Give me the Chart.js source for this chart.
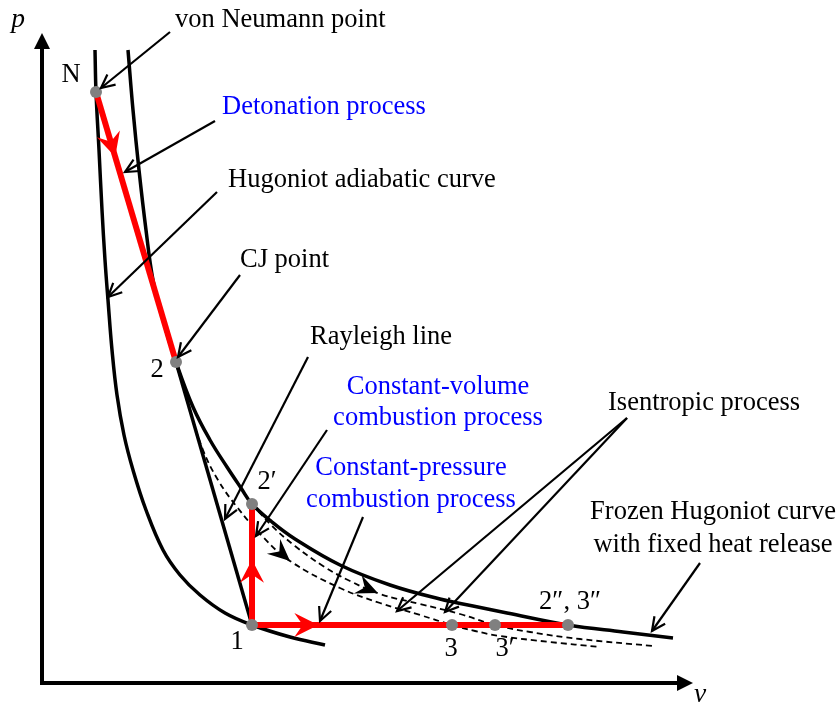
<!DOCTYPE html>
<html><head><meta charset="utf-8">
<script src="https://cdn.jsdelivr.net/npm/chart.js@4.4.1/dist/chart.umd.min.js"></script>
<style>html,body{margin:0;padding:0;background:#fff;overflow:hidden}#wrap{width:838px;height:708px;position:relative}</style>
</head><body><div id="wrap"><canvas id="c"></canvas></div>
<script>
// Schematic p–v diagram: specific volume v (x) and pressure p (y), arbitrary units
const leftHugoniotV = [53,54,57,60,63,66,70,75,82,91,104,121,138,158,183,210,248,283];
const leftHugoniotP = [633,591,533,473,423,383,333,288,248,213,173,133,108,88,70,58,46,38];
const rightHugoniotV = [86,91,97,104,111,121,134,151,168,185,199,210,230,253,298,348,398,431,465,526,581,631];
const rightHugoniotP = [633,573,513,453,403,363,321,276,243,216,195,179,161,144,118,98,84,77,70,58,51,45];
const isentropeCJV = [134,148,161,176,195,221,248,298,338,378,410,433,458,508,558];
const isentropeCJP = [321,273,233,203,176,146,122,95,80,68,58,52,47,41,36];
const isentropeCVV = [210,230,253,281,308,338,378,418,453,488,538,611];
const isentropeCVP = [179,157,137,117,102,89,79,69,58,51,44,37];
const stateLabels = ['N','2','2′','1','3','3′','2″, 3″'];
const stateV = [54,134,210,210,410,453,526];
const stateP = [591,321,179,58,58,58,58];

const pts = (vs, ps) => vs.map((v, i) => ({x: v, y: ps[i]}));
const S = i => ({x: stateV[i], y: stateP[i]});
const SERIF = '"Liberation Serif","Times New Roman",serif';
const FS = 26.5;

function barb(ctx, tx, ty, ang, L, W, color) {
  const dx = Math.cos(ang), dy = Math.sin(ang), nx = -dy, ny = dx;
  ctx.beginPath();
  ctx.moveTo(tx, ty);
  ctx.lineTo(tx - L*dx + W*nx, ty - L*dy + W*ny);
  ctx.lineTo(tx - 0.65*L*dx, ty - 0.65*L*dy);
  ctx.lineTo(tx - L*dx - W*nx, ty - L*dy - W*ny);
  ctx.closePath();
  ctx.fillStyle = color; ctx.fill();
}
function along(chart, ds, seg, t) {
  const d = chart.getDatasetMeta(ds).data, a = d[seg], b = d[seg+1];
  return {x: a.x + (b.x-a.x)*t, y: a.y + (b.y-a.y)*t, ang: Math.atan2(b.y-a.y, b.x-a.x)};
}

const callouts = [ // [from v,p] -> [to v,p]
  [128,651, 59,595], [173,562, 83,511], [175,491, 66,386], [198,408, 136,326],
  [266,326, 183,164], [285,253, 214,147], [321,166, 278,62],
  [585,265, 355,72], [585,265, 403,71], [658,120, 610,52]
];
const texts = [ // text, v, p, align, color
  ['von Neumann point', 133, 663, 'left', '#000'],
  ['Detonation process', 180, 576, 'left', '#0000ff'],
  ['Hugoniot adiabatic curve', 186, 503, 'left', '#000'],
  ['CJ point', 198, 423, 'left', '#000'],
  ['Rayleigh line', 268, 346, 'left', '#000'],
  ['Constant-volume', 396, 296, 'center', '#0000ff'],
  ['combustion process', 396, 265, 'center', '#0000ff'],
  ['Constant-pressure', 369, 215, 'center', '#0000ff'],
  ['combustion process', 369, 183, 'center', '#0000ff'],
  ['Isentropic process', 566, 280, 'left', '#000'],
  ['Frozen Hugoniot curve', 671, 171, 'center', '#000'],
  ['with fixed heat release', 671, 138, 'center', '#000']
];
const stateOffsets = [[-25,-17],[-19,8],[15,-22],[-15,17],[-1,24],[10,24],[2,-23]];

const overlay = {
  id: 'overlay',
  afterDatasetsDraw(chart) {
    const ctx = chart.ctx, xs = chart.scales.x, ys = chart.scales.y;
    const X = v => xs.getPixelForValue(v), Y = p => ys.getPixelForValue(p);
    ctx.save();
    // axes
    ctx.strokeStyle = '#000'; ctx.fillStyle = '#000'; ctx.lineWidth = 4; ctx.lineCap = 'butt';
    ctx.beginPath(); ctx.moveTo(X(0), Y(-2)); ctx.lineTo(X(0), Y(634)); ctx.stroke();
    ctx.beginPath(); ctx.moveTo(X(-2), Y(0)); ctx.lineTo(X(636), Y(0)); ctx.stroke();
    ctx.beginPath(); ctx.moveTo(X(0), Y(650)); ctx.lineTo(X(0)-8, Y(634)); ctx.lineTo(X(0)+8, Y(634)); ctx.closePath(); ctx.fill();
    ctx.beginPath(); ctx.moveTo(X(651), Y(0)); ctx.lineTo(X(635), Y(0)-8); ctx.lineTo(X(635), Y(0)+8); ctx.closePath(); ctx.fill();
    // process arrows (red) and isentrope arrows (black)
    let a = along(chart, 5, 0, 0.24); barb(ctx, a.x, a.y, a.ang, 24, 12, '#ff0000');
    a = along(chart, 6, 0, 0.54); barb(ctx, a.x, a.y, a.ang, 23, 12, '#ff0000');
    a = along(chart, 7, 0, 0.21); barb(ctx, a.x, a.y, a.ang, 24, 12, '#ff0000');
    a = along(chart, 2, 5, 1.0); barb(ctx, a.x, a.y, a.ang, 22, 10, '#000');
    a = along(chart, 3, 4, 0.93); barb(ctx, a.x, a.y, a.ang, 22, 10, '#000');
    // callouts
    ctx.lineWidth = 2.2; ctx.strokeStyle = '#000'; ctx.lineJoin = 'miter';
    callouts.forEach(c => {
      const x1 = X(c[0]), y1 = Y(c[1]), x2 = X(c[2]), y2 = Y(c[3]);
      ctx.beginPath(); ctx.moveTo(x1, y1); ctx.lineTo(x2, y2); ctx.stroke();
      const an = Math.atan2(y2-y1, x2-x1), h = 15, s = 0.45;
      ctx.beginPath();
      ctx.moveTo(x2 - h*Math.cos(an-s), y2 - h*Math.sin(an-s));
      ctx.lineTo(x2, y2);
      ctx.lineTo(x2 - h*Math.cos(an+s), y2 - h*Math.sin(an+s));
      ctx.stroke();
    });
    // texts
    ctx.textBaseline = 'middle';
    ctx.font = FS + 'px ' + SERIF;
    texts.forEach(t => { ctx.fillStyle = t[4]; ctx.textAlign = t[3]; ctx.fillText(t[0], X(t[1]), Y(t[2])); });
    ctx.fillStyle = '#000'; ctx.textAlign = 'center';
    stateLabels.forEach((s, i) => ctx.fillText(s, X(stateV[i]) + stateOffsets[i][0], Y(stateP[i]) + stateOffsets[i][1]));
    ctx.font = 'italic ' + (FS+1) + 'px ' + SERIF;
    ctx.fillText('p', X(-24), Y(663));
    ctx.fillText('v', X(658), Y(-12));
    ctx.restore();
  }
};

const black = {borderColor: '#000', borderWidth: 3.5, pointRadius: 0, showLine: true, fill: false};
new Chart(document.getElementById('c'), {
  type: 'scatter',
  data: {
    datasets: [
      Object.assign({label: 'Hugoniot adiabatic curve', data: pts(leftHugoniotV, leftHugoniotP), tension: 0.4, order: 3}, black),
      Object.assign({label: 'Frozen Hugoniot curve', data: pts(rightHugoniotV, rightHugoniotP), tension: 0.4, order: 3}, black),
      {label: 'Isentrope from 2', data: pts(isentropeCJV, isentropeCJP), tension: 0.4, borderColor: '#000', borderWidth: 1.8, borderDash: [6, 4], pointRadius: 0, showLine: true, order: 4},
      {label: "Isentrope from 2'", data: pts(isentropeCVV, isentropeCVP), tension: 0.4, borderColor: '#000', borderWidth: 1.8, borderDash: [6, 4], pointRadius: 0, showLine: true, order: 4},
      Object.assign({label: 'Rayleigh line', data: [S(1), S(3)], tension: 0, order: 3}, black),
      {label: 'Detonation process', data: [S(0), S(1)], tension: 0, borderColor: '#ff0000', borderWidth: 6, pointRadius: 0, showLine: true, order: 1},
      {label: 'Constant-volume combustion', data: [S(3), S(2)], tension: 0, borderColor: '#ff0000', borderWidth: 6, pointRadius: 0, showLine: true, order: 1},
      {label: 'Constant-pressure combustion', data: [S(3), S(6)], tension: 0, borderColor: '#ff0000', borderWidth: 6, pointRadius: 0, showLine: true, order: 1},
      {label: 'States', data: stateV.map((v, i) => S(i)), showLine: false, pointRadius: 6, pointHoverRadius: 6, pointBackgroundColor: '#808080', pointBorderWidth: 0, order: 0}
    ]
  },
  options: {
    responsive: true, maintainAspectRatio: false, animation: false,
    layout: {padding: 0, autoPadding: false},
    plugins: {legend: {display: false}, tooltip: {enabled: false}, title: {display: false}},
    scales: {
      x: {type: 'linear', min: -42, max: 796, display: false},
      y: {type: 'linear', min: -25, max: 683, display: false}
    }
  },
  plugins: [overlay]
});
</script></body></html>
